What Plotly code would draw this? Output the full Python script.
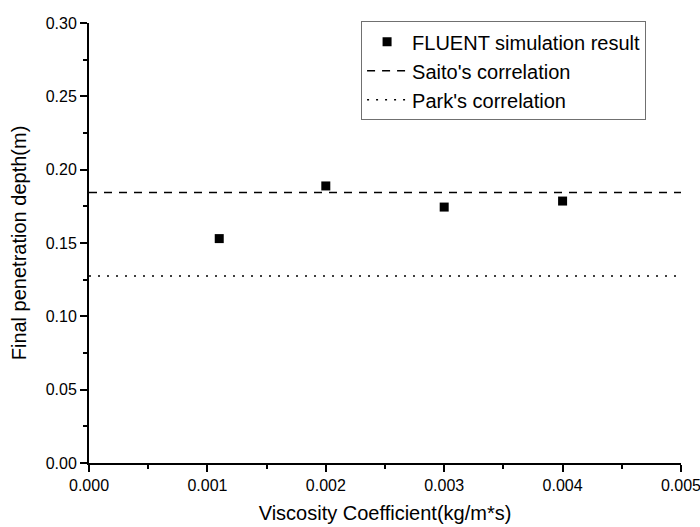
import plotly.graph_objects as go

# Data
visc = [0.0011, 0.002, 0.003, 0.004]
depth = [0.153, 0.1889, 0.1745, 0.1786]
saito_y = 0.1844
park_y = 0.1275
line_x = [0.0, 0.005]

FONT = "Arial, Liberation Sans, sans-serif"

fig = go.Figure()
fig.add_trace(go.Scatter(
    x=visc, y=depth, mode="markers", name="FLUENT simulation result",
    marker=dict(symbol="square", size=9, color="black"),
))
fig.add_trace(go.Scatter(
    x=line_x, y=[saito_y, saito_y], mode="lines", name="Saito's correlation",
    line=dict(color="black", width=1.5, dash="8px,7px"),
))
fig.add_trace(go.Scatter(
    x=line_x, y=[park_y, park_y], mode="lines", name="Park's correlation",
    line=dict(color="black", width=1.5, dash="2px,7px"),
))

fig.update_layout(
    width=700, height=527,
    margin=dict(l=89, r=19, t=23, b=64),
    paper_bgcolor="white", plot_bgcolor="white",
    font=dict(family=FONT, color="black", size=16),
    showlegend=True,
    legend=dict(
        x=0.941, y=1.004, xanchor="right", yanchor="top",
        bordercolor="#707070", borderwidth=1, bgcolor="white",
        font=dict(size=20, family=FONT), itemwidth=40,
        tracegroupgap=0,
    ),
)
fig.update_xaxes(
    range=[0, 0.0050001], tickvals=[0, 0.001, 0.002, 0.003, 0.004, 0.005],
    ticktext=["0.000", "0.001", "0.002", "0.003", "0.004", "0.005"],
    ticklabeloverflow="allow", automargin=False,
    showgrid=False, zeroline=False,
    showline=True, linecolor="black", linewidth=2,
    ticks="outside", ticklen=7, tickwidth=1.5, tickcolor="black",
    minor=dict(ticks="outside", ticklen=4, tickwidth=1.5, tickcolor="black", dtick=0.0005, showgrid=False),
    title=dict(text="Viscosity Coefficient(kg/m*s)", font=dict(size=20, family=FONT), standoff=13),
    tickfont=dict(size=16, family=FONT),
)
fig.update_yaxes(
    range=[0, 0.30], tickvals=[0, 0.05, 0.10, 0.15, 0.20, 0.25, 0.30],
    tickformat=".2f", showgrid=False, zeroline=False, automargin=False,
    showline=True, linecolor="black", linewidth=2,
    ticks="outside", ticklen=7, tickwidth=1.5, tickcolor="black",
    minor=dict(ticks="outside", ticklen=4, tickwidth=1.5, tickcolor="black", dtick=0.025, showgrid=False),
    title=dict(text="Final penetration depth(m)", font=dict(size=20, family=FONT), standoff=14),
    tickfont=dict(size=16, family=FONT),
)

fig.write_html("out.html")
